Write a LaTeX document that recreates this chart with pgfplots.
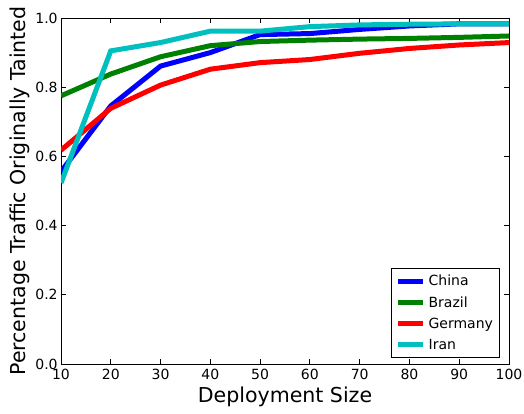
\documentclass[border=0pt]{standalone}
\usepackage{pgfplots}
\pgfplotsset{compat=1.18}
\usepackage{fontspec}
\setmainfont{DejaVu Sans}
\definecolor{mplgreen}{rgb}{0,0.5,0}
\definecolor{mplcyan}{rgb}{0,0.75,0.75}
\begin{document}
\begin{tikzpicture}
\begin{axis}[
  name=main,
  scale only axis,
  width=336pt, height=259.5pt,
  xmin=10, xmax=100, ymin=0, ymax=1,
  xtick={10,20,...,100},
  ytick={0,0.2,0.4,0.6,0.8,1.0},
  yticklabel style={/pgf/number format/fixed, /pgf/number format/fixed zerofill, /pgf/number format/precision=1, xshift=1pt},
  /pgf/number format/assume math mode=true,
  tick label style={font=\fontsize{10.5}{12}\selectfont},
  label style={font=\fontsize{15.4}{18}\selectfont},
  xlabel={Deployment Size},
  ylabel={Percentage Traffic Originally Tainted},
  tick align=inside,
  tick pos=both,
  major tick length=3.5pt,
  axis line style={black, line width=0.6pt},
  every tick/.style={black, line width=0.6pt},
  xlabel style={at={(axis description cs:0.5,-0.0954)}, anchor=center},
  ylabel style={at={(axis description cs:-0.0915,0.5)}, anchor=center},
  legend style={at={(0.98,0.017)}, anchor=south east, draw=black, line width=0.6pt,
    font=\fontsize{10.5}{12}\selectfont, row sep=2.5pt, inner sep=3pt},
  legend cell align=left,
  legend image code/.code={\draw[#1, line width=3.75pt] (0pt,0pt) -- (19pt,0pt);},
  every axis plot/.append style={line width=3.75pt, line join=miter},
]
\addplot[blue] coordinates {(10,0.556) (20,0.746) (30,0.861) (40,0.900) (50,0.952) (60,0.955) (70,0.967) (80,0.977) (90,0.983) (100,0.983)};
\addlegendentry{China}
\addplot[mplgreen] coordinates {(10,0.775) (20,0.838) (30,0.888) (40,0.920) (50,0.932) (60,0.936) (70,0.939) (80,0.941) (90,0.944) (100,0.948)};
\addlegendentry{Brazil}
\addplot[red] coordinates {(10,0.618) (20,0.739) (30,0.806) (40,0.852) (50,0.871) (60,0.880) (70,0.898) (80,0.912) (90,0.922) (100,0.929)};
\addlegendentry{Germany}
\addplot[mplcyan] coordinates {(10,0.523) (20,0.905) (30,0.929) (40,0.962) (50,0.962) (60,0.975) (70,0.980) (80,0.982) (90,0.983) (100,0.983)};
\addlegendentry{Iran}
\end{axis}
\pgfresetboundingbox
\path ([shift={(-45.75pt,-36.75pt)}]main.south west) rectangle ([shift={(11.25pt,13.5pt)}]main.north east);
\end{tikzpicture}
\end{document}
